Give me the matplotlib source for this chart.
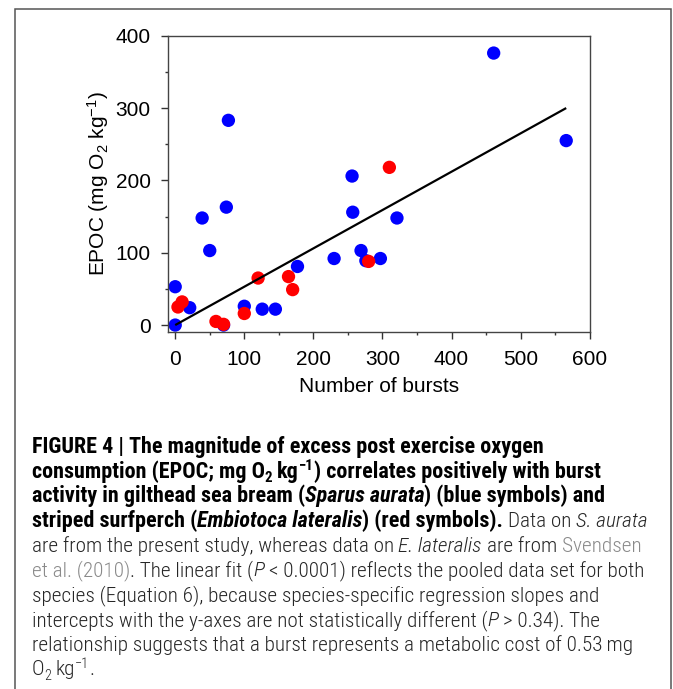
import matplotlib
matplotlib.use("Agg")
import matplotlib.pyplot as plt
import matplotlib.font_manager as fm
from matplotlib.patches import Rectangle
from matplotlib.ticker import MultipleLocator

# ---------------- data ----------------
blue_bursts = [0, 0, 21, 39, 50, 74, 77, 100, 126, 145, 177, 230, 256, 257,
               269, 276, 297, 321, 461, 566, 70]
blue_epoc = [0, 53, 24, 148, 103, 163, 283, 26, 22, 22, 81, 92, 206, 156,
             103, 89, 92, 148, 376, 255, 0]

red_bursts = [4, 10, 59, 70, 100, 120, 164, 170, 280, 310]
red_epoc = [25, 32, 5, 1, 16, 65, 67, 49, 88, 218]

fit_slope = 0.53
fit_x_range = [0, 566]

x_ticks = [0, 100, 200, 300, 400, 500, 600]
y_ticks = [0, 100, 200, 300, 400]

W, H = 673, 689
DPI = 100

plt.rcParams["font.family"] = ["Liberation Sans", "DejaVu Sans"]
plt.rcParams["mathtext.fontset"] = "custom"
plt.rcParams["mathtext.rm"] = "Liberation Sans"
plt.rcParams["mathtext.it"] = "Liberation Sans:italic"
plt.rcParams["mathtext.bf"] = "Liberation Sans:bold"

fig = plt.figure(figsize=(W / DPI, H / DPI), dpi=DPI)
fig.patch.set_facecolor("white")

# outer frame (open at the bottom)
fig.add_artist(Rectangle((14.7 / W, -0.1), (671 - 14.7) / W, 1.1 - 9.3 / H,
                         transform=fig.transFigure, fill=False,
                         edgecolor="#555555", linewidth=1.1))

ax_l, ax_r, ax_t, ax_b = 168.3, 589.7, 35.7, 332.3
ax = fig.add_axes([ax_l / W, 1 - ax_b / H, (ax_r - ax_l) / W, (ax_b - ax_t) / H])

ax.scatter(blue_bursts, blue_epoc, s=92, color="#0000ff", edgecolors="none", zorder=2)
ax.scatter(red_bursts, red_epoc, s=92, color="#ff0000", edgecolors="none", zorder=3)
ax.plot(fit_x_range, [fit_slope * v for v in fit_x_range], color="black",
        linewidth=1.6, zorder=4, solid_capstyle="butt")

ax.set_xlim(-10, 600)
ax.set_ylim(-10, 400)
ax.set_xticks(x_ticks)
ax.set_yticks(y_ticks)
ax.xaxis.set_minor_locator(MultipleLocator(50))
ax.yaxis.set_minor_locator(MultipleLocator(50))
ax.tick_params(which="major", direction="out", length=4.8, width=1.0,
               labelsize=15, pad=8, color="#333333", top=False, right=False)
ax.tick_params(which="minor", direction="out", length=2.4, width=1.0,
               color="#333333", top=False, right=False)
for sp in ax.spines.values():
    sp.set_color("#444444")
    sp.set_linewidth(1.0)

ax.set_xlabel("Number of bursts", fontsize=15, labelpad=6)
ax.set_ylabel("EPOC (mg O$_2$ kg$^{-1}$)", fontsize=15, labelpad=3)

# ---------------- caption ----------------
names = {f.name for f in fm.fontManager.ttflist}
cap_family = next((n for n in ["Roboto Condensed", "Liberation Sans Narrow",
                               "Open Sans Condensed", "Liberation Sans"] if n in names),
                  "DejaVu Sans")

B, R, BI, I, G = "b", "r", "bi", "i", "g"
cap_lines = [
    [("FIGURE 4 | The magnitude of excess post exercise oxygen", B)],
    [("consumption (EPOC; mg O", B), ("2", B + "_sub"), (" kg", B), ("\u22121", B + "_sup"),
     (") correlates positively with burst", B)],
    [("activity in gilthead sea bream (", B), ("Sparus aurata", BI),
     (") (blue symbols) and", B)],
    [("striped surfperch (", B), ("Embiotoca lateralis", BI), (") (red symbols).", B),
     (" Data on ", R), ("S. aurata", I)],
    [("are from the present study, whereas data on ", R), ("E. lateralis", I),
     (" are from ", R), ("Svendsen", G)],
    [("et al. (2010)", G), (". The linear fit (", R), ("P", I),
     (" < 0.0001) reflects the pooled data set for both", R)],
    [("species (Equation 6), because species-specific regression slopes and", R)],
    [("intercepts with the y-axes are not statistically different (", R), ("P", I),
     (" > 0.34). The", R)],
    [("relationship suggests that a burst represents a metabolic cost of 0.53\u2009mg", R)],
    [("O", R), ("2", R + "_sub"), (" kg", R), ("\u22121", R + "_sup"), (".", R)],
]

renderer = fig.canvas.get_renderer()
SCRIPT = 0.68


def style_kw(style):
    base = style.split("_")[0]
    kw = dict(family=cap_family, color="#262626", fontweight=300, fontstyle="normal")
    if base in ("b", "bi"):
        kw["fontweight"] = "bold"
        kw["color"] = "black"
    if base in ("bi", "i"):
        kw["fontstyle"] = "italic"
    if base == "g":
        kw["color"] = "#8a8a8a"
    return kw


def text_width(s, size, style):
    if not s:
        return 0.0
    t = fig.text(0, 0, s, fontsize=size, **style_kw(style))
    w = t.get_window_extent(renderer).width
    t.remove()
    return w


def run_width(s, size, style):
    core = s.strip(" ")
    n_sp = len(s) - len(core)
    sp = text_width("a a", size, style) - text_width("aa", size, style)
    return text_width(core, size, style) + n_sp * sp


def line_width(runs, size_b, size_r):
    tot = 0.0
    for s, st in runs:
        sz = size_b if st.startswith("b") else size_r
        if st.endswith("_sub") or st.endswith("_sup"):
            sz *= SCRIPT
        tot += run_width(s, sz, st)
    return tot


# fit sizes to the reference line widths
ref = 10.0
size_b = ref * 511.0 / line_width(cap_lines[0], ref, ref)
size_r = ref * 569.0 / line_width(cap_lines[6], ref, ref)

x0 = 31.5
base0 = 453.0
step = 24.7
for i, runs in enumerate(cap_lines):
    x = x0
    yb = base0 + i * step
    for s, st in runs:
        sz = size_b if st.startswith("b") else size_r
        dy = 0.0
        if st.endswith("_sub"):
            dy = 0.2 * sz * DPI / 72
            sz *= SCRIPT
        elif st.endswith("_sup"):
            dy = -0.33 * sz * DPI / 72
            sz *= SCRIPT
        core = s.strip(" ")
        lead = len(s) - len(s.lstrip(" "))
        trail = len(s) - len(s.rstrip(" "))
        sp = text_width("a a", sz, st) - text_width("aa", sz, st)
        x += lead * sp
        if core:
            fig.text(x / W, 1 - (yb + dy) / H, core, fontsize=sz, ha="left",
                     va="baseline", **style_kw(st))
            x += text_width(core, sz, st)
        x += trail * sp

fig.savefig("out.png", dpi=DPI, facecolor="white")
